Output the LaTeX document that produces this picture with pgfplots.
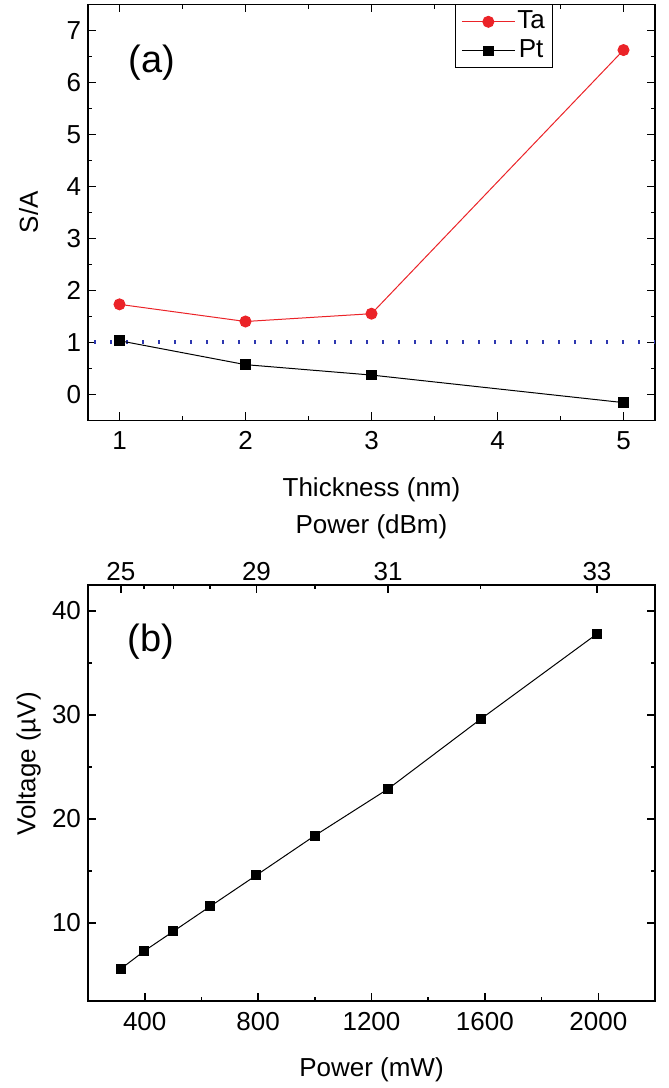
\documentclass[border=0pt]{standalone}
\usepackage{fontspec}
\setmainfont{Liberation Sans}
\usepackage{pgfplots}
\pgfplotsset{compat=1.18}

\definecolor{taRed}{RGB}{235,35,40}
\definecolor{refBlue}{RGB}{45,55,175}

\newcommand{\lblfont}{\fontsize{13bp}{15.6bp}\selectfont}

\pgfplotsset{
  panel/.style={
    scale only axis, width=283.5bp, height=208bp,
    axis line style={line width=0.8bp},
    every tick/.style={black, line width=0.8bp},
    major tick length=4bp, minor tick length=2.2bp,
    tick align=inside,
    /pgf/number format/assume math mode=true,
    /pgf/number format/1000 sep={},
    ticklabel style={font=\lblfont},
    xticklabel shift=2bp,
    label style={font=\lblfont, inner sep=0pt},
  },
}

\begin{document}
\begin{tikzpicture}
\useasboundingbox (0,0) rectangle (334.5bp,-544bp);

% (a) S/A versus thickness
\begin{axis}[panel, at={(44bp,-2.15bp)}, anchor=north west,
  xmin=0.75, xmax=5.25, ymin=-0.5, ymax=7.5,
  xtick={1,2,3,4,5}, minor x tick num=1,
  ytick={0,1,...,7}, minor y tick num=1,
  xlabel={Thickness (nm)}, ylabel={S/A},
  xlabel style={at={(axis description cs:0.5,-0.1825)}, anchor=base},
  ylabel style={at={(axis description cs:-0.0882,0.5)}, anchor=base},
  legend style={at={(axis description cs:0.647,1)}, anchor=north west,
    font=\lblfont, draw=black, line width=0.5bp,
    inner xsep=3bp, inner ysep=1.5bp, row sep=0.5bp,
    nodes={inner sep=1bp, text height=9.5bp, text depth=2.5bp}},
  legend image code/.code={
    \draw[mark repeat=2,mark phase=2,#1] plot coordinates {(0bp,0bp) (13.25bp,0bp) (26.5bp,0bp)};
  },
]
\addplot[refBlue, line width=2bp, dash pattern=on 0.85bp off 7.15bp, dash phase=5bp, forget plot]
  coordinates {(0.75,1) (5.25,1)};
\addplot[taRed, line width=0.5bp, mark=*, mark size=2.75bp, mark options={solid, fill=taRed}]
  coordinates {(1,1.73) (2,1.40) (3,1.55) (5,6.62)};
\addlegendentry{Ta}
\addplot[black, line width=0.5bp, mark=square*, mark size=2.4bp, mark options={solid}]
  coordinates {(1,1.03) (2,0.57) (3,0.37) (5,-0.16)};
\addlegendentry{Pt}
\node at (axis description cs:0.113,0.86) {\fontsize{19bp}{22bp}\selectfont (a)};
\end{axis}

% (b) voltage versus power, mW below
\begin{axis}[panel, at={(44bp,-292.5bp)}, anchor=north west,
  xmin=200, xmax=2200, ymin=2.5, ymax=42.5,
  xtick={400,800,1200,1600,2000}, xticklabels={400,800,1200,1600,2000},
  minor x tick num=1, xtick pos=bottom,
  ytick={10,20,30,40}, minor y tick num=1,
  xlabel={Power (mW)}, ylabel={Voltage (µV)},
  xlabel style={at={(axis description cs:0.5,-0.1825)}, anchor=base},
  ylabel style={at={(axis description cs:-0.0926,0.57)}, anchor=base},
]
\addplot[black, line width=0.5bp, mark=square*, mark size=2.25bp, mark options={solid}]
  coordinates {(316.2,5.6) (398.1,7.3) (501.2,9.2) (631.0,11.6) (794.3,14.6)
               (1000,18.4) (1258.9,22.9) (1584.9,29.6) (1995.3,37.8)};
\node at (axis description cs:0.111,0.863) {\fontsize{19bp}{22bp}\selectfont (b)};
\end{axis}

% (b) dBm scale on top
\begin{axis}[panel, at={(44bp,-292.5bp)}, anchor=north west,
  xmin=200, xmax=2200, ymin=2.5, ymax=42.5,
  axis x line*=top, axis y line=none,
  xtick={316.2,794.3,1258.9,1995.3}, xticklabels={25,29,31,33},
  minor xtick={398.1,501.2,631.0,1000,1584.9},
  xticklabel shift=-1.3bp,
  xlabel={Power (dBm)},
  xlabel style={at={(axis description cs:0.5,1.125)}, anchor=base},
]
\addplot[draw=none] coordinates {(200,2.5)};
\end{axis}
\end{tikzpicture}
\end{document}
